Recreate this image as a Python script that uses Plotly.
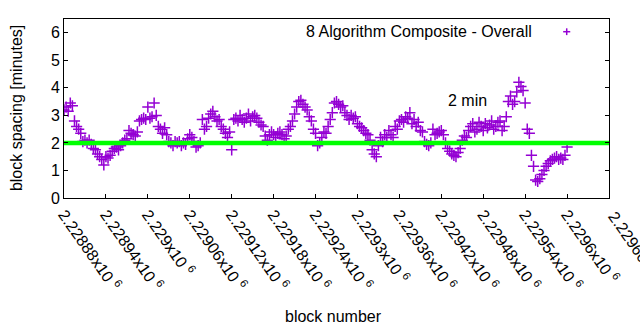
import numpy as np
import plotly.graph_objects as go

# Block spacing (minutes), one sample every 3 blocks starting at block 2228880
first_block = 2228880
block_step = 3
spacing = [
    3.20, 3.30, 3.15, 3.45, 3.35, 2.80, 2.60, 2.50, 2.35, 2.05,
    2.10, 2.00, 2.10, 1.95, 1.80, 1.75, 1.60, 1.50, 1.40, 1.20,
    1.50, 1.45, 1.55, 1.70, 1.80, 1.85, 1.75, 1.90, 2.00, 2.10,
    2.15, 2.45, 2.35, 2.30, 2.25, 2.40, 2.80, 2.85, 2.90, 2.85,
    3.30, 2.90, 2.95, 3.45, 3.00, 2.60, 2.50, 2.35, 2.55, 2.30,
    2.05, 2.00, 1.90, 2.05, 2.00, 2.05, 1.90, 2.00, 1.95, 2.15,
    2.30, 2.20, 2.05, 1.85, 1.90, 2.00, 2.85, 2.50, 2.60, 2.90,
    3.05, 3.15, 2.95, 2.80, 2.85, 2.60, 2.50, 2.35, 2.20, 2.40,
    1.75, 2.85, 2.90, 2.80, 3.00, 2.85, 2.75, 2.90, 3.05, 2.80,
    2.95, 3.00, 2.90, 2.75, 2.65, 2.60, 2.25, 2.10, 2.30, 2.40,
    2.30, 2.20, 2.35, 2.40, 2.30, 2.15, 2.25, 2.50, 2.60, 2.80,
    3.05, 3.30, 3.50, 3.55, 3.40, 3.30, 3.20, 2.95, 2.80, 2.50,
    2.35, 1.90, 2.00, 2.20, 2.40, 2.35, 2.60, 2.85, 3.10, 3.45,
    3.50, 3.40, 3.30, 3.35, 3.10, 3.00, 2.85, 3.00, 2.90, 2.95,
    2.70, 2.60, 2.55, 2.45, 2.35, 2.30, 2.10, 1.75, 1.60, 1.50,
    1.90, 2.20, 2.05, 2.30, 2.20, 2.45, 2.30, 2.20, 2.60, 2.50,
    2.80, 2.85, 2.75, 2.95, 2.90, 3.10, 2.70, 2.85, 2.60, 2.75,
    2.45, 2.40, 2.05, 1.95, 1.90, 2.00, 2.50, 2.30, 2.35, 2.40,
    2.45, 2.30, 2.00, 1.80, 1.70, 1.60, 1.55, 1.50, 1.65, 1.80,
    2.10, 2.25, 2.20, 2.45, 2.60, 2.70, 2.40, 2.50, 2.75, 2.60,
    2.45, 2.70, 2.55, 2.65, 2.80, 2.50, 2.60, 2.75, 2.80, 2.45,
    2.60, 2.95, 3.50, 3.70, 3.40, 3.50, 3.85, 4.20, 4.05, 3.90,
    3.45, 2.50, 2.35, 1.55, 1.15, 0.65, 0.60, 0.70, 0.85, 1.00,
    1.15, 1.25, 1.35, 1.40, 1.45, 1.50, 1.40, 1.45, 1.40, 1.55,
    1.85,
]
blocks = first_block + block_step * np.arange(len(spacing))

target_minutes = 2.0
x_range = [2228880, 2229660]
x_tick_values = list(range(2228880, 2229661, 60))
y_tick_values = [0, 1, 2, 3, 4, 5, 6]

series_name = "8 Algorithm Composite - Overall"
purple = "#9400d3"
font_family = "Liberation Sans, Arial, sans-serif"


def sci_label(v):
    mant = f"{v / 1e6:.5f}".rstrip("0").rstrip(".")
    return f"{mant}x10 <sup>6</sup>"


x_tick_text = [sci_label(v) for v in x_tick_values]

fig = go.Figure()

fig.add_trace(go.Scatter(
    x=blocks, y=spacing, mode="markers", name=series_name,
    marker=dict(symbol="cross-thin", size=8, color=purple,
                line=dict(color=purple, width=1.5)),
    showlegend=False,
))

fig.add_trace(go.Scatter(
    x=x_range, y=[target_minutes, target_minutes], mode="lines",
    line=dict(color="#00ff00", width=4.5), showlegend=False,
))

axis_common = dict(
    showgrid=False, zeroline=False, showline=True, linecolor="black",
    linewidth=1, ticks="inside", ticklen=4, tickcolor="black",
    tickfont=dict(family=font_family, size=16, color="black"),
)

fig.update_xaxes(
    range=x_range, tickvals=x_tick_values, ticktext=x_tick_text,
    tickangle=55, mirror=True, **axis_common,
)
fig.update_yaxes(
    range=[0, 6.5], tickvals=y_tick_values, mirror="ticks", **axis_common,
)

annotations = [
    dict(text="block spacing [minutes]", xref="paper", yref="paper",
         x=-0.087, y=0.5, textangle=-90, showarrow=False,
         xanchor="center", yanchor="middle"),
    dict(text="block number", xref="paper", yref="paper",
         x=0.495, y=-0.66, showarrow=False, xanchor="center", yanchor="middle"),
    dict(text=series_name, xref="paper", yref="paper",
         x=0.862, y=0.929, showarrow=False, xanchor="right", yanchor="middle"),
    dict(text="2 min", x=2229427, y=3.54, xref="x", yref="y",
         showarrow=False, xanchor="left", yanchor="middle"),
    # label for the last tick, which runs off the right edge of the page
    dict(text=x_tick_text[-1], x=x_tick_values[-1], y=0, xref="x", yref="paper",
         textangle=55, showarrow=False, xanchor="left", yanchor="top",
         xshift=-7, yshift=-6),
]

# legend key: a small "+" to the right of the series name
kx, ky = 0.9224, 0.929
hw, hh = 0.0065, 0.019
shapes = [
    dict(type="line", xref="paper", yref="paper", x0=kx - hw, x1=kx + hw,
         y0=ky, y1=ky, line=dict(color=purple, width=1.5)),
    dict(type="line", xref="paper", yref="paper", x0=kx, x1=kx,
         y0=ky - hh, y1=ky + hh, line=dict(color=purple, width=1.5)),
]

fig.update_layout(
    width=640, height=330,
    margin=dict(l=64, r=31, t=19, b=132),
    paper_bgcolor="white", plot_bgcolor="white",
    font=dict(family=font_family, size=16, color="black"),
    annotations=annotations, shapes=shapes,
)

fig.write_html("out.html")
